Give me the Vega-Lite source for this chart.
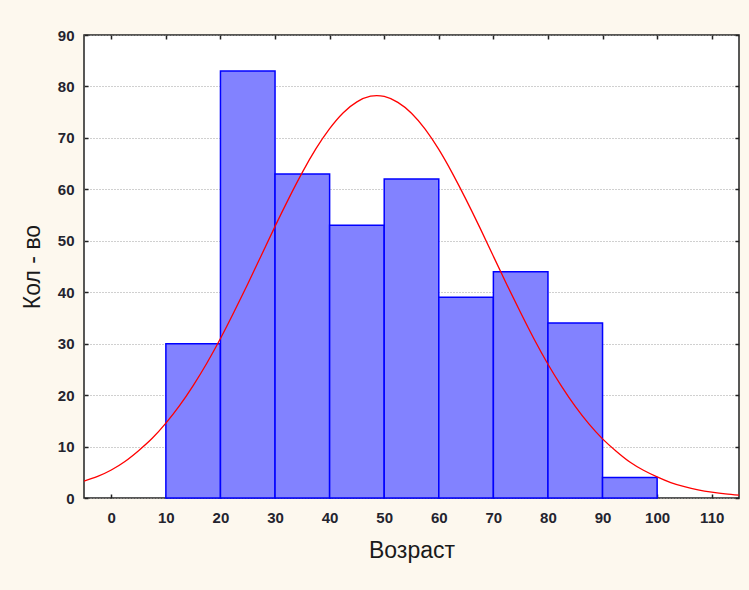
{
  "$schema": "https://vega.github.io/schema/vega-lite/v6.json",
  "width": 655,
  "height": 463,
  "autosize": {"type": "none"},
  "padding": {"left": 84, "top": 35, "right": 10, "bottom": 92},
  "background": "#fdf8ee",
  "config": {
    "font": "Liberation Sans",
    "view": {"fill": "white", "stroke": "#222222", "strokeWidth": 1.5}
  },
  "datasets": {
    "bars": [
      {"start": 10, "end": 20, "count": 30},
      {"start": 20, "end": 30, "count": 83},
      {"start": 30, "end": 40, "count": 63},
      {"start": 40, "end": 50, "count": 53},
      {"start": 50, "end": 60, "count": 62},
      {"start": 60, "end": 70, "count": 39},
      {"start": 70, "end": 80, "count": 44},
      {"start": 80, "end": 90, "count": 34},
      {"start": 90, "end": 100, "count": 4}
    ],
    "curve": [
      {"x": -5, "y": 3.3}, {"x": -2.5, "y": 4.2}, {"x": 0, "y": 5.45}, {"x": 2.5, "y": 7.1},
      {"x": 5, "y": 9.2}, {"x": 7.5, "y": 11.6}, {"x": 10, "y": 14.55}, {"x": 12.5, "y": 17.95},
      {"x": 15, "y": 21.85}, {"x": 17.5, "y": 26.2}, {"x": 20, "y": 31.0}, {"x": 22.5, "y": 36.2},
      {"x": 25, "y": 41.6}, {"x": 27.5, "y": 47.2}, {"x": 30, "y": 52.8}, {"x": 32.5, "y": 58.2},
      {"x": 35, "y": 63.3}, {"x": 37.5, "y": 67.9}, {"x": 40, "y": 71.8}, {"x": 42.5, "y": 74.9},
      {"x": 45, "y": 77.0}, {"x": 47.5, "y": 78.1}, {"x": 50, "y": 78.05}, {"x": 52.5, "y": 76.9},
      {"x": 55, "y": 74.8}, {"x": 57.5, "y": 71.7}, {"x": 60, "y": 67.75}, {"x": 62.5, "y": 63.1},
      {"x": 65, "y": 58.0}, {"x": 67.5, "y": 52.6}, {"x": 70, "y": 47.0}, {"x": 72.5, "y": 41.4},
      {"x": 75, "y": 36.0}, {"x": 77.5, "y": 30.8}, {"x": 80, "y": 26.0}, {"x": 82.5, "y": 21.7},
      {"x": 85, "y": 17.8}, {"x": 87.5, "y": 14.4}, {"x": 90, "y": 11.5}, {"x": 92.5, "y": 9.1},
      {"x": 95, "y": 7.0}, {"x": 97.5, "y": 5.4}, {"x": 100, "y": 4.1}, {"x": 102.5, "y": 3.0},
      {"x": 105, "y": 2.2}, {"x": 107.5, "y": 1.6}, {"x": 110, "y": 1.15}, {"x": 112.5, "y": 0.8},
      {"x": 115, "y": 0.56}
    ]
  },
  "layer": [
    {
      "data": {"name": "bars"},
      "mark": {"type": "rect", "fill": "#8282ff", "stroke": "#0000ff", "strokeWidth": 1.5},
      "encoding": {
        "x": {
          "field": "start", "type": "quantitative",
          "scale": {"domain": [-5, 115], "nice": false, "zero": false},
          "axis": {
            "orient": "bottom", "title": "Возраст", "values": [0, 10, 20, 30, 40, 50, 60, 70, 80, 90, 100, 110],
            "domain": false, "grid": false, "tickSize": -4, "tickColor": "#222222", "tickWidth": 1.5,
            "labelPadding": 16, "labelFontSize": 15, "labelFontWeight": "bold", "labelColor": "#24242e", "labelFlush": false,
            "titleFontSize": 23, "titleFontWeight": "normal", "titleColor": "#1a1a1a", "titlePadding": 14
          }
        },
        "x2": {"field": "end"},
        "y": {
          "field": "count", "type": "quantitative",
          "scale": {"domain": [0, 90], "nice": false},
          "axis": {
            "orient": "left", "title": "Кол - во", "values": [0, 10, 20, 30, 40, 50, 60, 70, 80, 90],
            "domain": false, "grid": true, "gridColor": "#a0a0a0", "gridDash": [1, 2], "gridWidth": 1,
            "tickSize": -4, "tickColor": "#222222", "tickWidth": 1.5,
            "labelPadding": 14, "labelFontSize": 15, "labelFontWeight": "bold", "labelColor": "#24242e", "labelFlush": false,
            "titleFontSize": 23, "titleFontWeight": "normal", "titleColor": "#1a1a1a", "titlePadding": 13
          }
        },
        "y2": {"datum": 0}
      }
    },
    {
      "data": {"name": "curve"},
      "mark": {"type": "line", "color": "#ff0000", "strokeWidth": 1.3, "interpolate": "natural"},
      "encoding": {
        "x": {
          "field": "x", "type": "quantitative",
          "axis": {"orient": "top", "title": null, "labels": false, "values": [0, 10, 20, 30, 40, 50, 60, 70, 80, 90, 100, 110],
                   "domain": false, "grid": false, "tickSize": -4, "tickColor": "#222222", "tickWidth": 1.5}
        },
        "y": {
          "field": "y", "type": "quantitative",
          "axis": {"orient": "right", "title": null, "labels": false, "values": [0, 10, 20, 30, 40, 50, 60, 70, 80, 90],
                   "domain": false, "grid": false, "tickSize": -4, "tickColor": "#222222", "tickWidth": 1.5}
        }
      }
    }
  ],
  "resolve": {"axis": {"x": "independent", "y": "independent"}}
}
